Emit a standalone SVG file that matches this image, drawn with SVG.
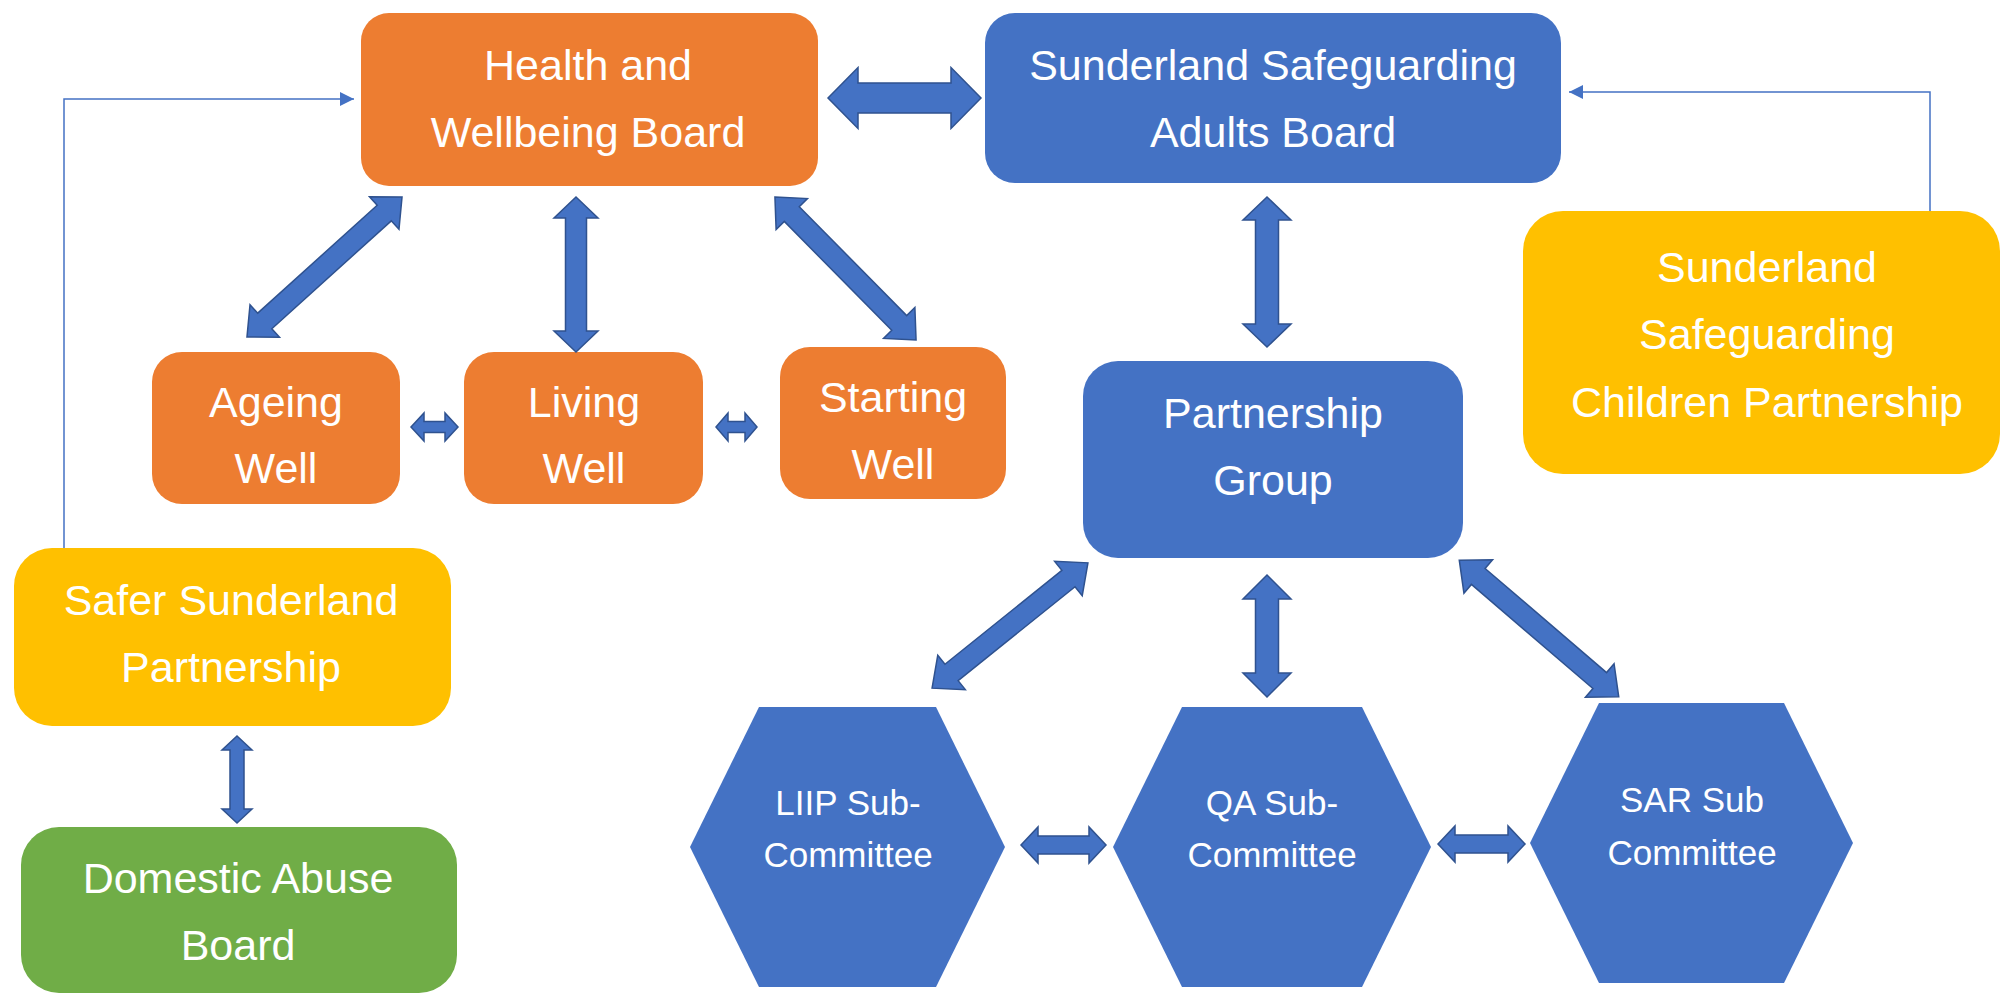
<svg xmlns="http://www.w3.org/2000/svg" width="2002" height="996" viewBox="0 0 2002 996">
<defs>
<style>
.orange{fill:#ED7D31}
.blue{fill:#4472C4}
.yellow{fill:#FFC000}
.green{fill:#70AD47}
.t{font-family:"Liberation Sans",Arial,sans-serif;font-size:43px;fill:#FFFFFF;text-anchor:middle}
.ts{font-family:"Liberation Sans",Arial,sans-serif;font-size:35px;fill:#FFFFFF;text-anchor:middle}
.blk{fill:#4472C4;stroke:#2F528F;stroke-width:1.5;stroke-linejoin:miter}
.thin{fill:none;stroke:#4472C4;stroke-width:1.5}
</style>
<marker id="ah" viewBox="0 0 10 10" refX="10" refY="5" markerWidth="16" markerHeight="14" markerUnits="userSpaceOnUse" orient="auto">
<path d="M0,0 L10,5 L0,10 z" fill="#4472C4"/>
</marker>
</defs>
<rect width="2002" height="996" fill="#FFFFFF"/>

<g id="hwb">
<rect class="orange" x="361" y="13" width="457" height="173" rx="28"/>
<text class="t" x="588" y="80">Health and</text>
<text class="t" x="588" y="147">Wellbeing Board</text>
</g>
<g id="ssab">
<rect class="blue" x="985" y="13" width="576" height="170" rx="30"/>
<text class="t" x="1273" y="80">Sunderland Safeguarding</text>
<text class="t" x="1273" y="147">Adults Board</text>
</g>
<g id="ageing">
<rect class="orange" x="152" y="352" width="248" height="152" rx="30"/>
<text class="t" x="276" y="417">Ageing</text>
<text class="t" x="276" y="483">Well</text>
</g>
<g id="living">
<rect class="orange" x="464" y="352" width="239" height="152" rx="30"/>
<text class="t" x="584" y="417">Living</text>
<text class="t" x="584" y="483">Well</text>
</g>
<g id="starting">
<rect class="orange" x="780" y="347" width="226" height="152" rx="30"/>
<text class="t" x="893" y="412">Starting</text>
<text class="t" x="893" y="479">Well</text>
</g>
<g id="sscp">
<rect class="yellow" x="1523" y="211" width="477" height="263" rx="40"/>
<text class="t" x="1767" y="282">Sunderland</text>
<text class="t" x="1767" y="349">Safeguarding</text>
<text class="t" x="1767" y="417">Children Partnership</text>
</g>
<g id="pg">
<rect class="blue" x="1083" y="361" width="380" height="197" rx="35"/>
<text class="t" x="1273" y="428">Partnership</text>
<text class="t" x="1273" y="495">Group</text>
</g>
<g id="ssp">
<rect class="yellow" x="14" y="548" width="437" height="178" rx="38"/>
<text class="t" x="231" y="615">Safer Sunderland</text>
<text class="t" x="231" y="682">Partnership</text>
</g>
<g id="dab">
<rect class="green" x="21" y="827" width="436" height="166" rx="38"/>
<text class="t" x="238" y="893">Domestic Abuse</text>
<text class="t" x="238" y="960">Board</text>
</g>
<g id="liip">
<polygon class="blue" points="759,707 936,707 1005,847 936,987 759,987 690,847"/>
<text class="ts" x="848" y="815">LIIP Sub-</text>
<text class="ts" x="848" y="867">Committee</text>
</g>
<g id="qa">
<polygon class="blue" points="1182,707 1362,707 1431,847 1362,987 1182,987 1113,847"/>
<text class="ts" x="1272" y="815">QA Sub-</text>
<text class="ts" x="1272" y="867">Committee</text>
</g>
<g id="sar">
<polygon class="blue" points="1599,703 1784,703 1853,843 1784,983 1599,983 1530,843"/>
<text class="ts" x="1692" y="812">SAR Sub</text>
<text class="ts" x="1692" y="865">Committee</text>
</g>

<g id="connectors">
<polygon class="blk" transform="translate(904.5,98)" points="-76.5,0 -46.5,-30.5 -46.5,-15 46.5,-15 46.5,-30.5 76.5,0 46.5,30.5 46.5,15 -46.5,15 -46.5,30.5"/>
<polygon class="blk" transform="translate(324.5,267) rotate(137.9)" points="-104.5,0 -80.5,-22 -80.5,-10.5 80.5,-10.5 80.5,-22 104.5,0 80.5,22 80.5,10.5 -80.5,10.5 -80.5,22"/>
<polygon class="blk" transform="translate(576,274.5) rotate(90)" points="-77.5,0 -56.5,-22 -56.5,-10.5 56.5,-10.5 56.5,-22 77.5,0 56.5,22 56.5,10.5 -56.5,10.5 -56.5,22"/>
<polygon class="blk" transform="translate(845.5,268.5) rotate(45.4)" points="-100.5,0 -76.5,-22 -76.5,-10.5 76.5,-10.5 76.5,-22 100.5,0 76.5,22 76.5,10.5 -76.5,10.5 -76.5,22"/>
<polygon class="blk" transform="translate(434.5,427)" points="-23.5,0 -10.5,-14 -10.5,-5.5 10.5,-5.5 10.5,-14 23.5,0 10.5,14 10.5,5.5 -10.5,5.5 -10.5,14"/>
<polygon class="blk" transform="translate(736.5,427)" points="-20.5,0 -8.5,-14 -8.5,-5.5 8.5,-5.5 8.5,-14 20.5,0 8.5,14 8.5,5.5 -8.5,5.5 -8.5,14"/>
<polygon class="blk" transform="translate(1267,272) rotate(90)" points="-75,0 -52,-24 -52,-11.5 52,-11.5 52,-24 75,0 52,24 52,11.5 -52,11.5 -52,24"/>
<polygon class="blk" transform="translate(237,779.5) rotate(90)" points="-43.5,0 -29.5,-15 -29.5,-7 29.5,-7 29.5,-15 43.5,0 29.5,15 29.5,7 -29.5,7 -29.5,15"/>
<polygon class="blk" transform="translate(1010,625.5) rotate(-38.8)" points="-100,0 -75,-22 -75,-10.5 75,-10.5 75,-22 100,0 75,22 75,10.5 -75,10.5 -75,22"/>
<polygon class="blk" transform="translate(1267,636) rotate(90)" points="-61,0 -37,-24 -37,-11.5 37,-11.5 37,-24 61,0 37,24 37,11.5 -37,11.5 -37,24"/>
<polygon class="blk" transform="translate(1539,628.5) rotate(40.6)" points="-105,0 -80,-22 -80,-10.5 80,-10.5 80,-22 105,0 80,22 80,10.5 -80,10.5 -80,22"/>
<polygon class="blk" transform="translate(1063.5,845)" points="-42.5,0 -25.5,-18 -25.5,-9 25.5,-9 25.5,-18 42.5,0 25.5,18 25.5,9 -25.5,9 -25.5,18"/>
<polygon class="blk" transform="translate(1481.5,844)" points="-43.5,0 -26.5,-18 -26.5,-9 26.5,-9 26.5,-18 43.5,0 26.5,18 26.5,9 -26.5,9 -26.5,18"/>
<path class="thin" d="M64,548 V99 H354" marker-end="url(#ah)"/>
<path class="thin" d="M1930,211 V92 H1569" marker-end="url(#ah)"/>
</g>
</svg>
